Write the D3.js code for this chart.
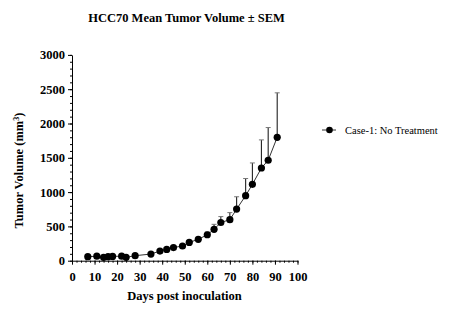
<!DOCTYPE html>
<html>
<head>
<meta charset="utf-8">
<script src="https://cdn.jsdelivr.net/npm/d3@7/dist/d3.min.js"></script>
<style>
  html, body { margin: 0; padding: 0; background: #fff; }
  svg { display: block; }
  text { font-family: "Liberation Serif", "Times New Roman", serif; fill: #000; }
</style>
</head>
<body>
<svg id="chart" width="450" height="327"></svg>
<script>
// Measurement days and mean tumour volume (mm³) with SEM
const days = [7, 11, 14, 16, 18, 22, 24, 28, 35, 39, 42, 45, 49, 52, 56, 60, 63, 66, 70, 73, 77, 80, 84, 87, 91];
const meanVolume = [58, 66, 49, 58, 63, 66, 49, 73, 97, 141, 165, 192, 214, 266, 312, 378, 458, 557, 598, 752, 948, 1113, 1351, 1464, 1799];
const sem = [6, 7, 5, 6, 7, 8, 6, 9, 12, 15, 16, 18, 20, 22, 28, 40, 72, 86, 103, 180, 250, 312, 410, 477, 648];
const xTicks = [0, 10, 20, 30, 40, 50, 60, 70, 80, 90, 100];
const yTicks = [0, 500, 1000, 1500, 2000, 2500, 3000];
const seriesName = "Case-1: No Treatment";

const svg = d3.select("#chart");

const x = d3.scaleLinear().domain([0, 100]).range([72, 297.5]);
const y = d3.scaleLinear().domain([0, 3000]).range([260.7, 54.9]);

const data = days.map((d, i) => ({ day: d, v: meanVolume[i], e: sem[i] }));

// Axes: major ticks with labels, minor ticks without
const xAxis = svg.append("g").attr("transform", `translate(0,${y(0)})`);
xAxis.call(d3.axisBottom(x).tickValues(d3.range(0, 101, 2)).tickSize(2).tickFormat(""));
xAxis.call(g => g.select(".domain").remove());
const xMajor = svg.append("g").attr("transform", `translate(0,${y(0)})`)
  .call(d3.axisBottom(x).tickValues(xTicks).tickSize(4).tickSizeOuter(0).tickPadding(7)
    .tickFormat(d3.format("d")));

const yAxis = svg.append("g").attr("transform", `translate(${x(0)},0)`);
yAxis.call(d3.axisLeft(y).tickValues(d3.range(0, 3001, 100)).tickSize(2).tickFormat(""));
yAxis.call(g => g.select(".domain").remove());
const yMajor = svg.append("g").attr("transform", `translate(${x(0)},0)`)
  .call(d3.axisLeft(y).tickValues(yTicks).tickSize(4).tickSizeOuter(0).tickPadding(3)
    .tickFormat(d3.format("d")));

svg.selectAll(".tick line, .domain").attr("stroke", "#000").attr("stroke-width", 1);
[xMajor, yMajor].forEach(g => g.selectAll(".tick text")
  .style("font-family", "'Liberation Serif', serif")
  .style("font-weight", "bold")
  .style("font-size", "12.5px")
  .attr("fill", "#000"));

// Error bars (upper SEM only)
const eb = svg.append("g");
eb.selectAll("line.bar").data(data.filter(d => d.e > 15)).join("line")
  .attr("class", "bar")
  .attr("x1", d => x(d.day)).attr("x2", d => x(d.day))
  .attr("y1", d => y(d.v)).attr("y2", d => y(d.v + d.e))
  .attr("stroke", "#222").attr("stroke-width", 1.1);
eb.selectAll("line.cap").data(data.filter(d => d.e > 15)).join("line")
  .attr("class", "cap")
  .attr("x1", d => x(d.day) - 2.5).attr("x2", d => x(d.day) + 2.5)
  .attr("y1", d => y(d.v + d.e)).attr("y2", d => y(d.v + d.e))
  .attr("stroke", "#777").attr("stroke-width", 1);

// Connecting line
svg.append("path")
  .datum(data)
  .attr("fill", "none")
  .attr("stroke", "#333")
  .attr("stroke-width", 1)
  .attr("d", d3.line().x(d => x(d.day)).y(d => y(d.v)));

// Markers
svg.append("g").selectAll("circle").data(data).join("circle")
  .attr("cx", d => x(d.day)).attr("cy", d => y(d.v))
  .attr("r", 3.6).attr("fill", "#000");

// Title
svg.append("text")
  .attr("x", 186.5).attr("y", 21.5)
  .attr("text-anchor", "middle")
  .style("font-weight", "bold").style("font-size", "12.5px")
  .text("HCC70 Mean Tumor Volume ± SEM");

// Axis titles
svg.append("text")
  .attr("x", 184.5).attr("y", 299.5)
  .attr("text-anchor", "middle")
  .style("font-weight", "bold").style("font-size", "12.5px")
  .text("Days post inoculation");

const yl = svg.append("text")
  .attr("transform", "translate(23,170.5) rotate(-90)")
  .attr("text-anchor", "middle")
  .style("font-weight", "bold").style("font-size", "12.5px");
yl.append("tspan").text("Tumor Volume (mm");
yl.append("tspan").attr("dy", -4).style("font-size", "8px").text("3");
yl.append("tspan").attr("dy", 4).text(")");

// Legend
const lg = svg.append("g").attr("transform", "translate(322,130)");
lg.append("line").attr("x1", 0).attr("x2", 14).attr("y1", 0).attr("y2", 0)
  .attr("stroke", "#333").attr("stroke-width", 1);
lg.append("circle").attr("cx", 7.5).attr("cy", 0).attr("r", 3.3).attr("fill", "#000");
lg.append("text").attr("x", 23).attr("y", 3.8)
  .style("font-size", "10.5px")
  .text(seriesName);
</script>
</body>
</html>
